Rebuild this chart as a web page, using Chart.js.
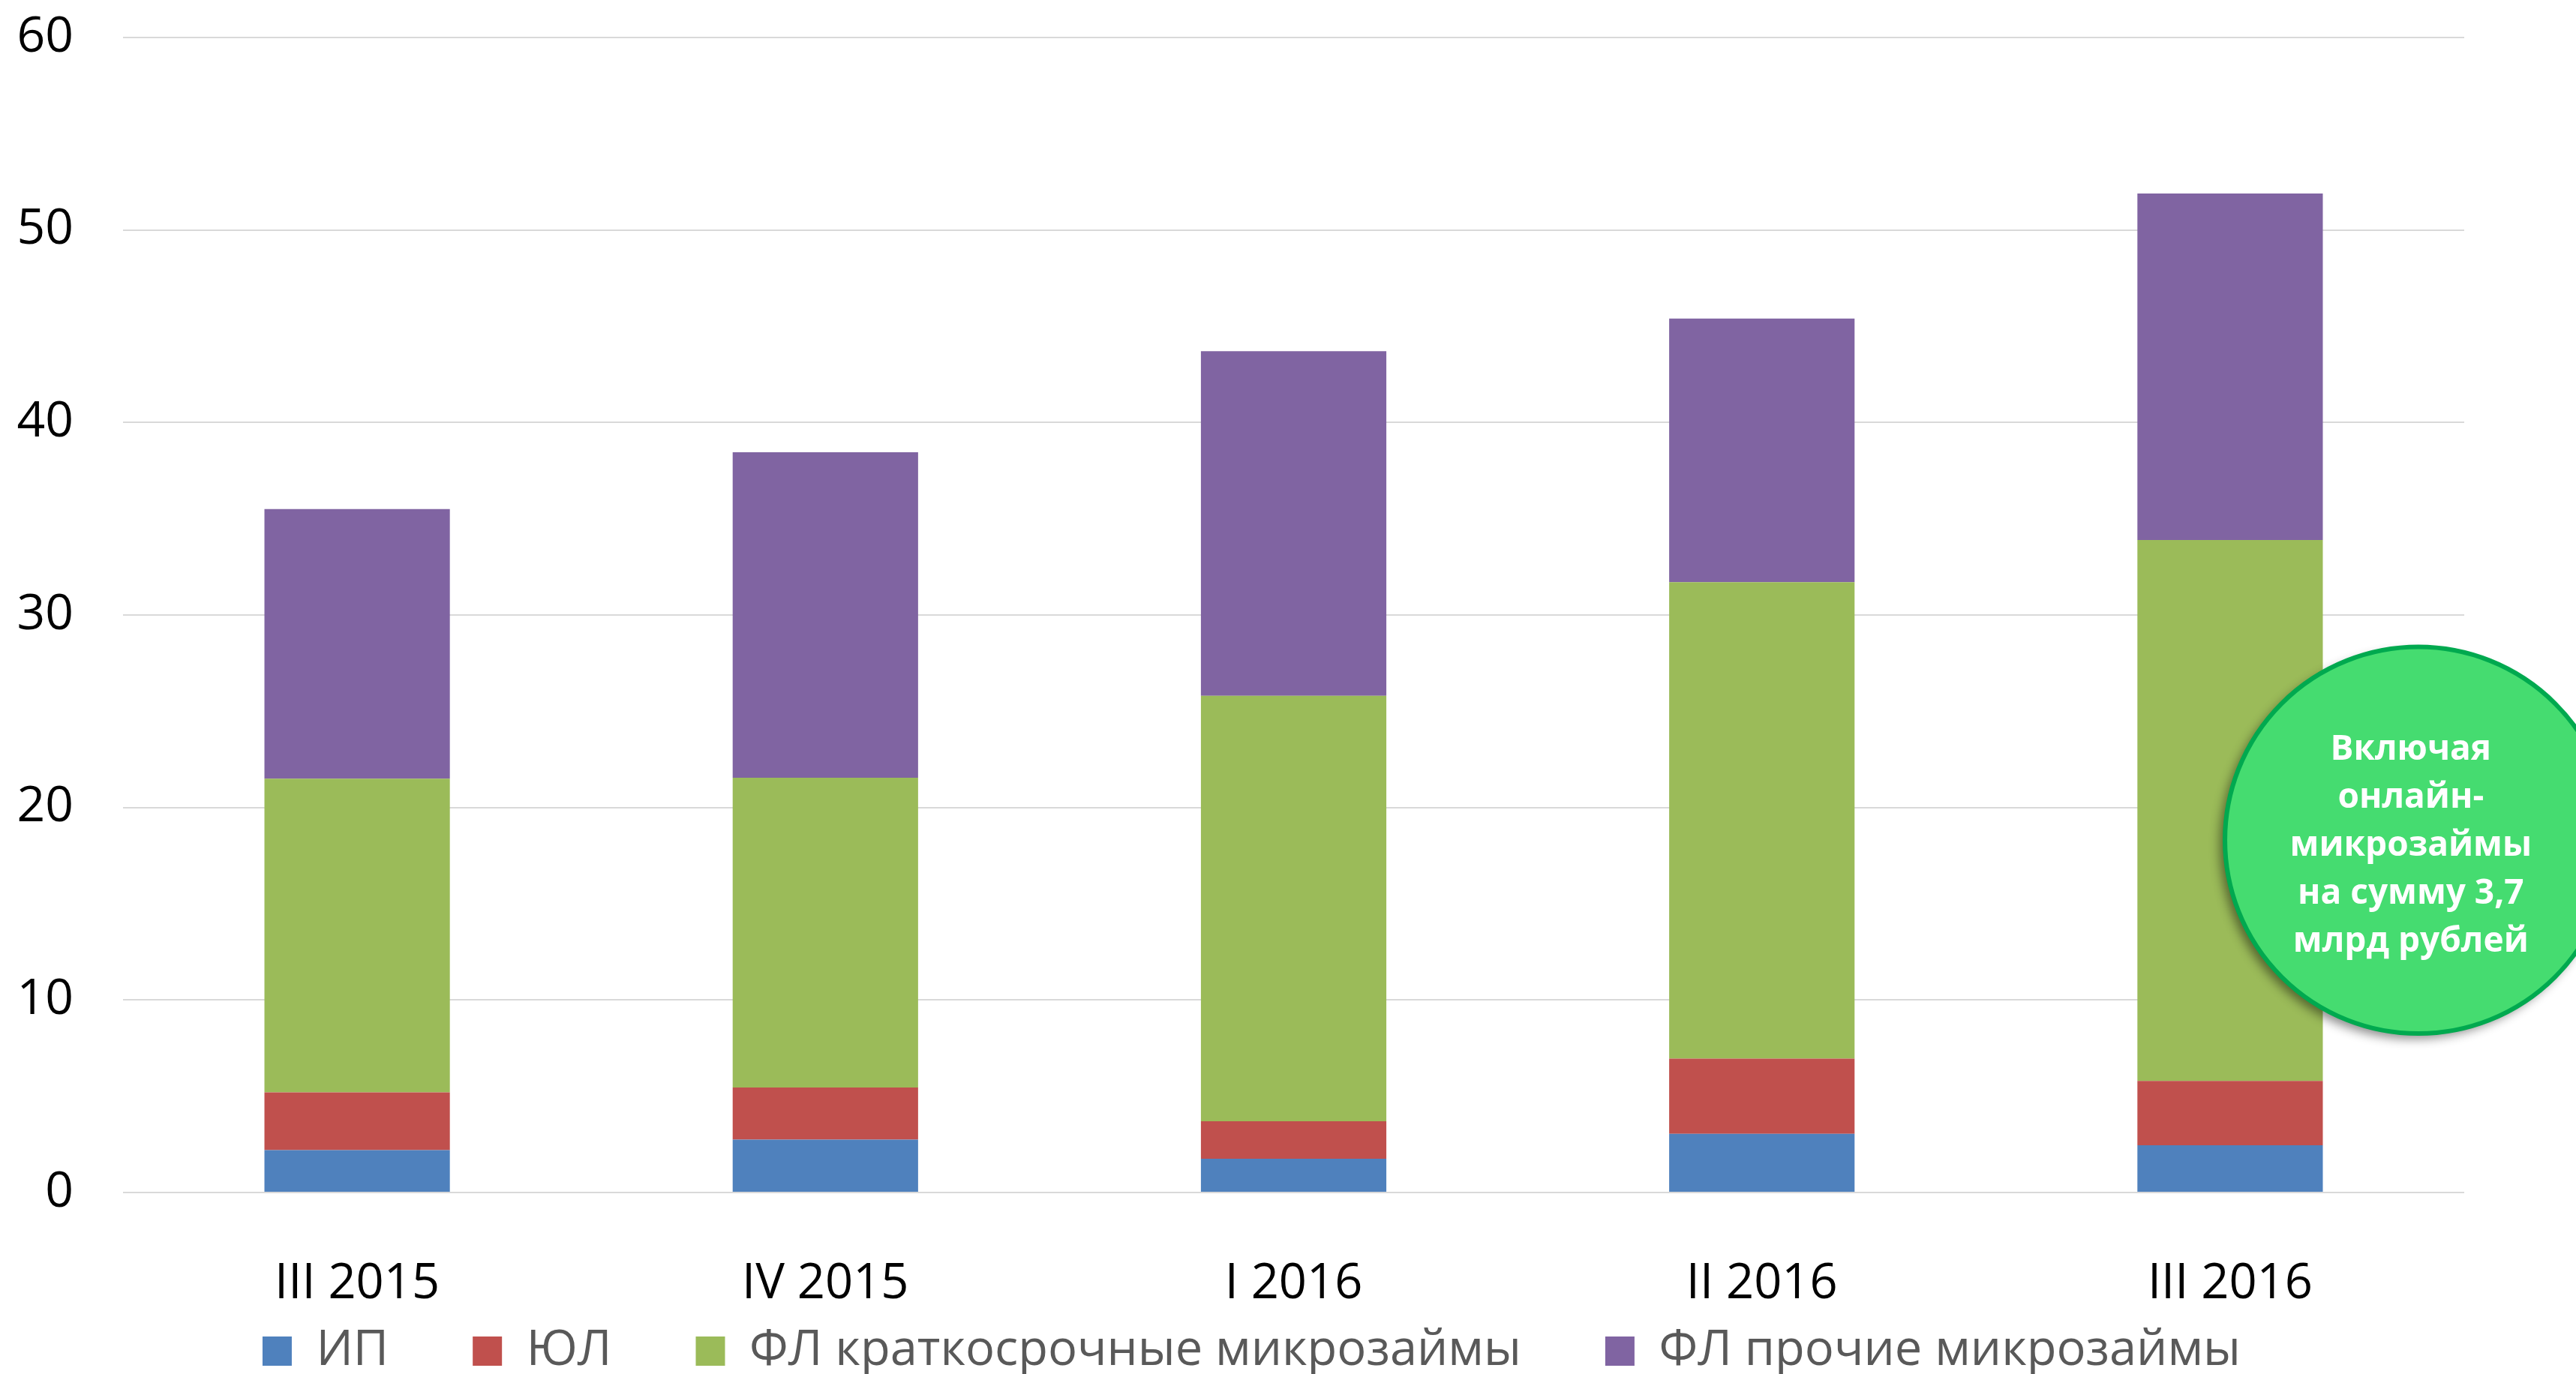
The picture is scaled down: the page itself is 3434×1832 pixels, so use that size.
<!DOCTYPE html>
<html>
<head>
<meta charset="utf-8">
<script src="https://cdn.jsdelivr.net/npm/chart.js@4.4.1/dist/chart.umd.min.js"></script>
<style>
html,body{margin:0;padding:0;background:#fff;}
#wrap{width:3434px;height:1832px;position:relative;}
</style>
</head>
<body>
<div id="wrap"><canvas id="c" width="3434" height="1832"></canvas></div>
<script>
const categories = ['III 2015', 'IV 2015', 'I 2016', 'II 2016', 'III 2016'];
const seriesNames = ['ИП', 'ЮЛ', 'ФЛ краткосрочные микрозаймы', 'ФЛ прочие микрозаймы'];
const ipValues = [2.2, 2.75, 1.75, 3.05, 2.45];
const ulValues = [3.0, 2.7, 1.95, 3.9, 3.35];
const flShortValues = [16.3, 16.1, 22.1, 24.75, 28.1];
const flOtherValues = [14.0, 16.9, 17.9, 13.7, 18.0];
const yTicks = [0, 10, 20, 30, 40, 50, 60];
const calloutLines = ['Включая', 'онлайн-', 'микрозаймы', 'на сумму 3,7', 'млрд рублей'];

const colors = ['#4F81BD', '#C0504D', '#9BBB59', '#8064A2'];
const FONT = "'Open Sans', 'Noto Sans', sans-serif";
const LEGEND_PAD = 112;
const LEGEND_H = 100;
const LEGEND_ITEM_TOP = 37;
const LEGEND_SHIFT_X = 26;

const legendLayoutPlugin = {
  id: 'legendLayout',
  beforeLayout(chart) {
    const lg = chart.legend;
    if (lg && !lg._patched) {
      const origFit = lg.fit.bind(lg);
      lg.fit = function () { origFit(); this.height = LEGEND_H; };
      const origDraw = lg.draw.bind(lg);
      lg.draw = function () {
        const t = this.top, l = this.left, r = this.right;
        this.top = t - LEGEND_PAD + LEGEND_ITEM_TOP;
        this.left = l + LEGEND_SHIFT_X;
        this.right = r + LEGEND_SHIFT_X;
        origDraw();
        this.top = t; this.left = l; this.right = r;
      };
      lg._patched = true;
    }
  }
};

const calloutPlugin = {
  id: 'callout',
  afterDraw(chart) {
    const ctx = chart.ctx;
    const xs = chart.scales.x, ys = chart.scales.y;
    const catW = xs.getPixelForValue(1) - xs.getPixelForValue(0);
    const cx = xs.getPixelForValue(4) + catW * 0.402;
    const cy = ys.getPixelForValue(18.3);
    const r = catW * 0.413;
    ctx.save();
    ctx.shadowColor = 'rgba(0,0,0,0.45)';
    ctx.shadowBlur = 14;
    ctx.shadowOffsetX = -7;
    ctx.shadowOffsetY = 7;
    ctx.beginPath();
    ctx.arc(cx, cy, r, 0, Math.PI * 2);
    ctx.fillStyle = '#45DC70';
    ctx.fill();
    ctx.restore();
    ctx.save();
    ctx.beginPath();
    ctx.arc(cx, cy, r, 0, Math.PI * 2);
    ctx.lineWidth = 6;
    ctx.strokeStyle = '#00A94F';
    ctx.stroke();
    ctx.fillStyle = '#ffffff';
    ctx.font = "bold 46px " + FONT;
    ctx.textAlign = 'center';
    ctx.textBaseline = 'middle';
    const lh = 64;
    const startY = cy + 8 - lh * (calloutLines.length - 1) / 2;
    calloutLines.forEach((t, i) => ctx.fillText(t, cx - 10, startY + i * lh));
    ctx.restore();
  }
};

const datasets = [ipValues, ulValues, flShortValues, flOtherValues].map((vals, i) => ({
  label: seriesNames[i],
  data: vals,
  backgroundColor: colors[i],
  borderWidth: 0,
  barPercentage: 0.396,
  categoryPercentage: 1.0
}));

new Chart(document.getElementById('c'), {
  type: 'bar',
  data: { labels: categories, datasets },
  options: {
    responsive: false,
    animation: false,
    devicePixelRatio: 1,
    layout: { padding: { top: 50, right: 149, left: 0, bottom: 0 } },
    plugins: {
      tooltip: { enabled: false },
      legend: {
        position: 'bottom',
        labels: {
          font: { family: FONT, size: 65 },
          color: '#595959',
          boxWidth: 39,
          boxHeight: 39,
          padding: LEGEND_PAD
        }
      }
    },
    scales: {
      x: {
        stacked: true,
        grid: { display: false },
        border: { display: false },
        afterFit(scale) { scale.height = 142; },
        ticks: { font: { family: FONT, size: 65 }, color: '#000', padding: 75 }
      },
      y: {
        stacked: true,
        min: 0, max: 60,
        afterBuildTicks(scale) { scale.ticks = yTicks.map(v => ({ value: v })); },
        afterFit(scale) { scale.width = 164; scale.paddingTop = 0; scale.paddingBottom = 0; },
        grid: { color: '#D9D9D9', lineWidth: 2, drawTicks: false },
        border: { display: false },
        ticks: { font: { family: FONT, size: 66 }, color: '#000', padding: 66 }
      }
    }
  },
  plugins: [legendLayoutPlugin, calloutPlugin]
});
</script>
</body>
</html>
